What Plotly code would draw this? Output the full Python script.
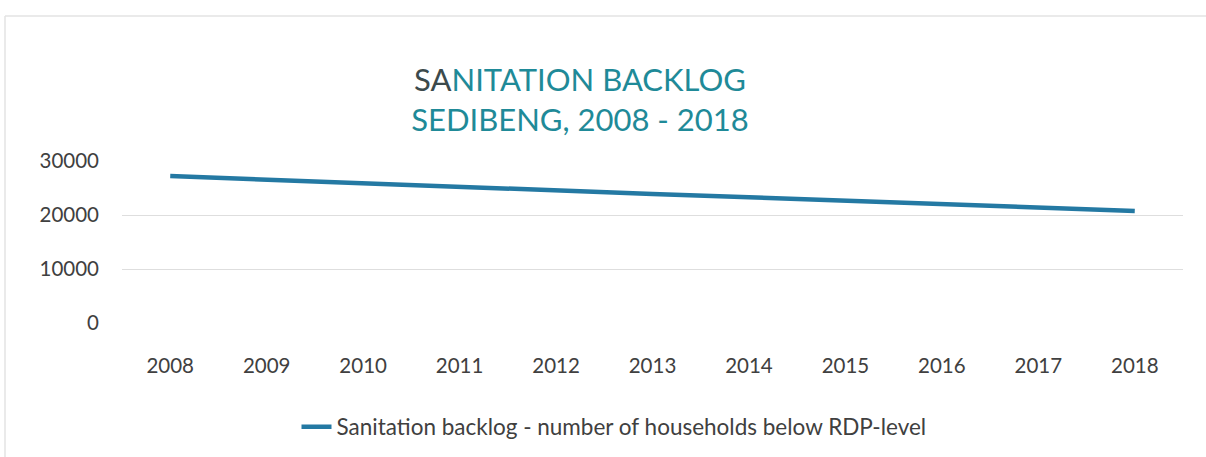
import plotly.graph_objects as go

# Sedibeng sanitation backlog, households below RDP level
years = ["2008", "2009", "2010", "2011", "2012", "2013",
         "2014", "2015", "2016", "2017", "2018"]
backlog = [27200, 26500, 25800, 25150, 24550, 23900,
           23300, 22700, 22050, 21400, 20750]
y_ticks = [0, 10000, 20000, 30000]

series_name = "Sanitation backlog - number of households below RDP-level"

W, H = 1206, 457
L, R, T, B = 122, 23, 161, 134
plot_w = W - L - R
plot_h = H - T - B

fig = go.Figure()
fig.add_trace(go.Scatter(
    x=years, y=backlog, mode="lines", name=series_name,
    line=dict(color="#2479a3", width=4.5),
))

def px_to_paper_x(px):
    return (px - L) / plot_w

def px_to_paper_y(py):
    return (H - B - py) / plot_h

# light frame of the chart object: only its top and left edges fall on the page
frame = dict(color="#e3e3e3", width=1.5)
fig.add_shape(type="line", xref="paper", yref="paper", layer="below",
              x0=px_to_paper_x(5), x1=px_to_paper_x(W),
              y0=px_to_paper_y(16), y1=px_to_paper_y(16), line=frame)
fig.add_shape(type="line", xref="paper", yref="paper", layer="below",
              x0=px_to_paper_x(5), x1=px_to_paper_x(5),
              y0=px_to_paper_y(16), y1=px_to_paper_y(H), line=frame)

fig.update_layout(
    width=W, height=H,
    margin=dict(l=L, r=R, t=T, b=B, pad=0),
    paper_bgcolor="white", plot_bgcolor="white",
    font=dict(family="Lato, Open Sans, sans-serif", color="#595959"),
    title=dict(
        text="<span style='color:#3c4a4c'>SA</span>NITATION BACKLOG<br>SEDIBENG, 2008 - 2018",
        font=dict(size=31, color="#1f8a98", family="Lato, Open Sans, sans-serif"),
        x=580 / W, xanchor="center", xref="container",
        y=1 - 91 / H, yanchor="top", yref="container",
    ),
    xaxis=dict(
        type="category", range=[-0.5, len(years) - 0.5],
        showgrid=False, showline=False, zeroline=False,
        tickfont=dict(size=20.5, color="#404040"),
        ticklabelstandoff=28, ticks="",
    ),
    yaxis=dict(
        range=[0, 30000], tickvals=y_ticks, ticktext=[str(v) for v in y_ticks],
        showgrid=True, gridcolor="#dedede", gridwidth=1,
        zeroline=False, showline=False, ticks="",
        tickfont=dict(size=20.5, color="#404040"),
        ticklabelstandoff=22,
    ),
    showlegend=True,
    legend=dict(
        orientation="h", xref="container", yref="container",
        x=614 / W, xanchor="center", y=1 - 427 / H, yanchor="middle",
        font=dict(size=22.5, color="#404040"),
        bgcolor="rgba(0,0,0,0)",
    ),
)

fig.write_html("out.html")
